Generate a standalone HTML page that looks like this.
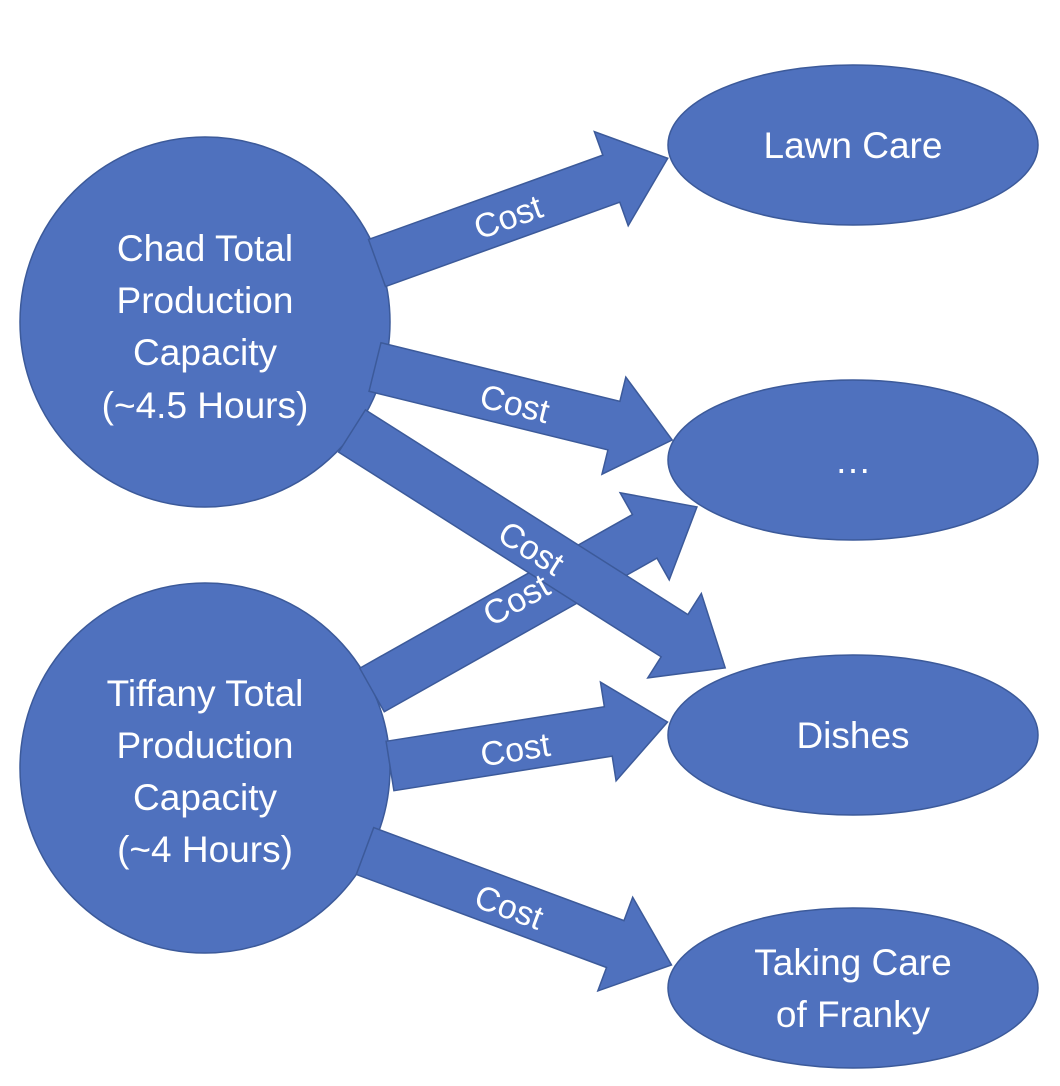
<!DOCTYPE html>
<html><head><meta charset="utf-8"><style>
html,body{margin:0;padding:0;background:#fff;}
svg{display:block;}
text{font-family:"Liberation Sans",sans-serif;fill:#fff;}
</style></head><body>
<svg width="1060" height="1086" viewBox="0 0 1060 1086" xmlns="http://www.w3.org/2000/svg">
<g fill="#4f71be" stroke="#3c5a9a" stroke-width="1.5">
<circle cx="205" cy="322" r="185"/>
<circle cx="205" cy="768" r="185"/>
<ellipse cx="853" cy="145" rx="185" ry="80"/>
<ellipse cx="853" cy="460" rx="185" ry="80"/>
<ellipse cx="853" cy="735" rx="185" ry="80"/>
<ellipse cx="853" cy="988" rx="185" ry="80"/>
</g>
<g fill="#4f71be" stroke="#3c5a9a" stroke-width="1.5">
<g transform="translate(377,263) rotate(-19.8)"><polygon points="0,-25 249,-25 249,-50 309,0 249,50 249,25 0,25"/></g>
<g transform="translate(375,367) rotate(13.8)"><polygon points="0,-25 246,-25 246,-50 306,0 246,50 246,25 0,25"/></g>
<g transform="translate(372,690) rotate(-29.4)"><polygon points="0,-25 313,-25 313,-50 373,0 313,50 313,25 0,25"/></g>
<g transform="translate(352,431) rotate(32.4)"><polygon points="0,-25 382,-25 382,-50 442,0 382,50 382,25 0,25"/></g>
<g transform="translate(390,766) rotate(-9)"><polygon points="0,-25 221,-25 221,-50 281,0 221,50 221,25 0,25"/></g>
<g transform="translate(365,851) rotate(20.4)"><polygon points="0,-25 267,-25 267,-50 327,0 267,50 267,25 0,25"/></g>
</g>
<g font-size="37" text-anchor="middle">
<text x="205" y="261">Chad Total</text>
<text x="205" y="313">Production</text>
<text x="205" y="365">Capacity</text>
<text x="205" y="418">(~4.5 Hours)</text>
<text x="205" y="706">Tiffany Total</text>
<text x="205" y="758">Production</text>
<text x="205" y="810">Capacity</text>
<text x="205" y="862">(~4 Hours)</text>
<text x="853" y="158">Lawn Care</text>
<text x="853" y="473">…</text>
<text x="853" y="748">Dishes</text>
<text x="853" y="975">Taking Care</text>
<text x="853" y="1027">of Franky</text>
</g>
<g font-size="34" text-anchor="middle">
<text transform="translate(512,228) rotate(-19.8)">Cost</text>
<text transform="translate(512,415) rotate(13.8)">Cost</text>
<text transform="translate(522,610) rotate(-29.4)">Cost</text>
<text transform="translate(525,558) rotate(32.4)">Cost</text>
<text transform="translate(517,761) rotate(-9)">Cost</text>
<text transform="translate(505,918) rotate(20.4)">Cost</text>
</g>
</svg>
</body></html>
